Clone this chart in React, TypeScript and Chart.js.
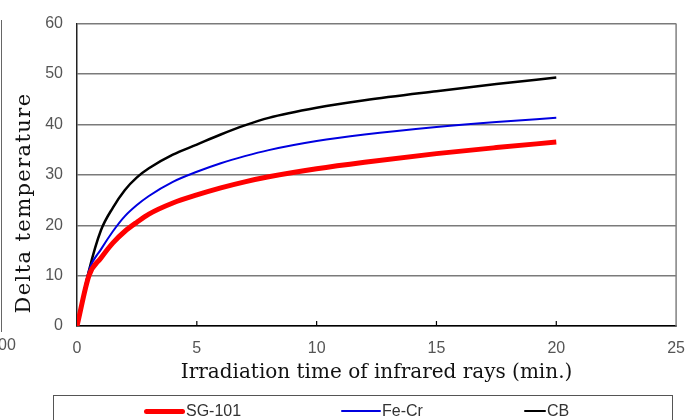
import React, { useEffect, useRef } from "react";
import { Chart, registerables } from "chart.js";

Chart.register(...registerables);

// ---- data ----
const timeMin = [0, 0.5, 1, 1.5, 2, 2.5, 3, 4, 5, 6, 7, 8, 10, 12, 15, 17.5, 20];
const sg101 = [0, 10, 13.5, 16.5, 18.8, 20.6, 22.2, 24.4, 26, 27.4, 28.6, 29.6, 31.2, 32.5, 34.2, 35.4, 36.5];
const feCr = [0, 11, 15.2, 18.8, 21.8, 24, 25.8, 28.6, 30.6, 32.3, 33.7, 34.9, 36.7, 38, 39.5, 40.5, 41.3];
const cbVals = [0, 11, 19, 23.5, 27, 29.5, 31.3, 34, 36, 38, 39.8, 41.3, 43.3, 44.8, 46.6, 48, 49.3];
const seriesNames = ["SG-101", "Fe-Cr", "CB"];
const xTickValues = [0, 5, 10, 15, 20, 25];
const yTickValues = [0, 10, 20, 30, 40, 50, 60];
const xTitle = "Irradiation time of infrared rays (min.)";
const yTitle = "Delta temperature";

// ---- styles ----
const seriesColors = ["#ff0000", "#0000e0", "#000000"];
const seriesWidths = [5, 2, 2.5];
const legendLefts = [143, 340, 523];
const legendLineLens = [41, 40, 22];

const frameAndTitle = {
  id: "frameAndTitle",
  afterDraw(chart: any) {
    const { ctx, chartArea } = chart;
    const xs = chart.scales.x;
    ctx.save();
    // right border (gray)
    ctx.strokeStyle = "#808080";
    ctx.lineWidth = 1.5;
    ctx.beginPath();
    ctx.moveTo(chartArea.right, chartArea.top);
    ctx.lineTo(chartArea.right, chartArea.bottom);
    ctx.stroke();
    // inner tick marks on the x axis
    ctx.strokeStyle = "#000";
    ctx.lineWidth = 1.2;
    xs.ticks.forEach((t: any) => {
      if (t.value <= xs.min || t.value >= xs.max) return;
      const px = xs.getPixelForValue(t.value);
      ctx.beginPath();
      ctx.moveTo(px, chartArea.bottom);
      ctx.lineTo(px, chartArea.bottom - 5);
      ctx.stroke();
    });
    // y title
    ctx.translate(25, 203);
    ctx.rotate(-Math.PI / 2);
    ctx.fillStyle = "#111";
    ctx.font = '21px "DejaVu Serif"';
    try {
      (ctx as any).letterSpacing = "1.4px";
    } catch (e) {}
    ctx.textAlign = "center";
    ctx.textBaseline = "middle";
    ctx.fillText(yTitle, 0, 0);
    ctx.restore();
  },
};

export default function App() {
  const ref = useRef<HTMLCanvasElement | null>(null);
  useEffect(() => {
    if (!ref.current) return;
    const series = [sg101, feCr, cbVals];
    const chart = new Chart(ref.current, {
      type: "line",
      data: {
        datasets: series.map((vals, i) => ({
          label: seriesNames[i],
          data: timeMin.map((t, j) => ({ x: t, y: vals[j] })),
          borderColor: seriesColors[i],
          backgroundColor: seriesColors[i],
          borderWidth: seriesWidths[i],
          pointRadius: 0,
          cubicInterpolationMode: "monotone" as const,
          fill: false,
        })),
      },
      options: {
        animation: false,
        responsive: false,
        events: [],
        layout: { padding: { left: 0, right: 21, top: 18, bottom: 35 } },
        plugins: { legend: { display: false }, tooltip: { enabled: false } },
        scales: {
          x: {
            type: "linear",
            min: xTickValues[0],
            max: xTickValues[xTickValues.length - 1],
            afterBuildTicks: (s: any) => {
              s.ticks = xTickValues.map((v) => ({ value: v }));
            },
            afterFit: (s: any) => {
              s.height = 59;
            },
            grid: { display: false, drawTicks: false },
            border: { display: true, color: "#000", width: 1.5 },
            ticks: {
              padding: 13,
              color: "#555",
              font: { family: '"Liberation Sans"', size: 16 },
            },
            title: {
              display: true,
              text: xTitle,
              color: "#111",
              font: { family: '"DejaVu Serif"', size: 20 },
              padding: { top: 0, bottom: 0 },
            },
          },
          y: {
            type: "linear",
            min: yTickValues[0],
            max: yTickValues[yTickValues.length - 1],
            afterBuildTicks: (s: any) => {
              s.ticks = yTickValues.map((v) => ({ value: v }));
            },
            afterFit: (s: any) => {
              s.width = 77;
            },
            grid: { color: "#7a7a7a", lineWidth: 1.4, drawTicks: false },
            border: { display: true, color: "#222", width: 1.5 },
            ticks: {
              padding: 14,
              color: "#555",
              font: { family: '"Liberation Sans"', size: 16 },
            },
          },
        },
      },
      plugins: [frameAndTitle],
    });
    return () => chart.destroy();
  }, []);

  return (
    <div style={{ position: "absolute", left: 0, top: 0, width: 698, height: 420, overflow: "hidden", background: "#fff" }}>
      <canvas ref={ref} width={698} height={420} style={{ display: "block", width: 698, height: 420 }} />
      {/* fragment of a neighbouring figure at the left edge */}
      <div style={{ position: "absolute", left: 1, top: 20, width: 1, height: 312, background: "#666" }} />
      <div style={{ position: "absolute", left: -2, top: 336, font: '16px "Liberation Sans"', color: "#555" }}>00</div>
      {/* legend */}
      <div style={{ position: "absolute", left: 53, top: 395, width: 620, height: 40, border: "1px solid #555", boxSizing: "border-box" }}>
        {seriesNames.map((name, i) => (
          <div key={name} style={{ position: "absolute", left: legendLefts[i] - 53, top: 4, height: 22, display: "flex", alignItems: "center" }}>
            <div style={{ width: legendLineLens[i], height: seriesWidths[i], background: seriesColors[i], borderRadius: seriesWidths[i] / 2 }} />
            <span style={{ font: '16px "Liberation Sans"', color: "#333", marginLeft: 1 }}>{name}</span>
          </div>
        ))}
      </div>
    </div>
  );
}
